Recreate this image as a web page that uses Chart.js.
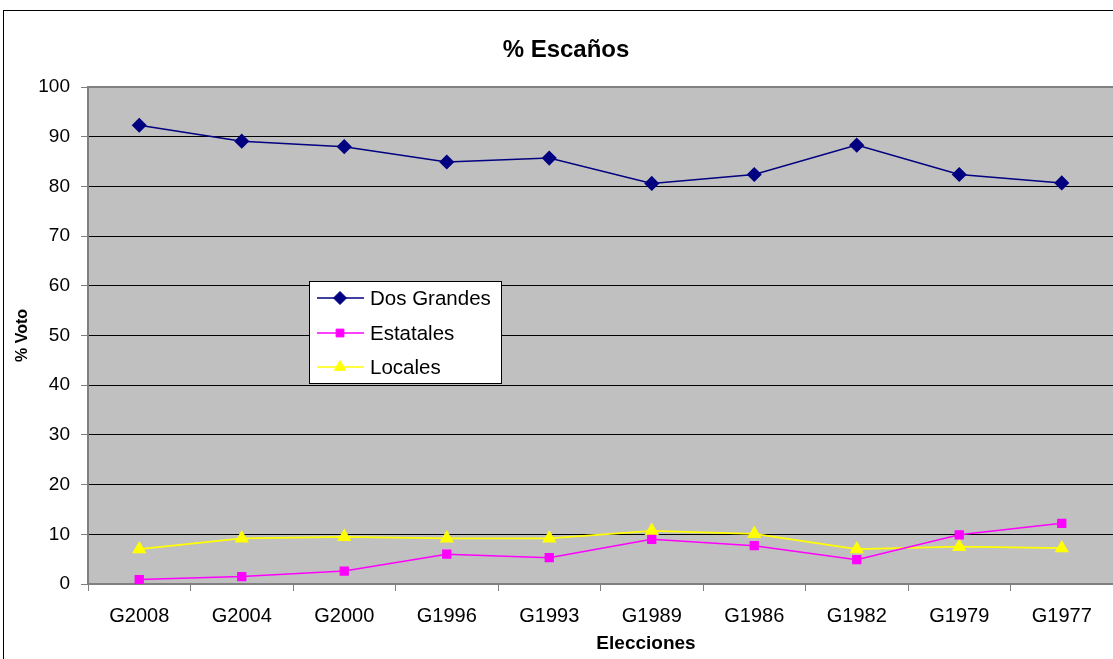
<!DOCTYPE html>
<html>
<head>
<meta charset="utf-8">
<script src="https://cdn.jsdelivr.net/npm/chart.js@4/dist/chart.umd.min.js"></script>
<style>
  html, body { margin: 0; padding: 0; background: #ffffff; }
  #wrap { width: 1113px; height: 659px; position: relative; }
</style>
</head>
<body>
<div id="wrap"><canvas id="c" width="1113" height="659"></canvas></div>
<script>
// Elecciones generales (most recent first)
const elecciones = ['G2008', 'G2004', 'G2000', 'G1996', 'G1993', 'G1989', 'G1986', 'G1982', 'G1979', 'G1977'];

// Share of seats (%) per group of parties
const dosGrandes = [92.3, 89.1, 88.0, 84.9, 85.7, 80.6, 82.4, 88.3, 82.4, 80.7];
const estatales  = [0.9, 1.5, 2.6, 6.0, 5.3, 9.0, 7.7, 4.9, 9.9, 12.2];
const locales    = [7.0, 9.2, 9.5, 9.2, 9.2, 10.7, 10.1, 7.0, 7.5, 7.2];

const seriesNames = ['Dos Grandes', 'Estatales', 'Locales'];
const yTicks = [0, 10, 20, 30, 40, 50, 60, 70, 80, 90, 100];

const chartTitle = '% Escaños';
const xTitle = 'Elecciones';
const yTitle = '% Voto';

const FONT = '"Liberation Sans", Arial, sans-serif';

// White page, outer frame and grey plot area
const frameAndBackground = {
  id: 'frameAndBackground',
  beforeDraw(chart) {
    const { ctx, chartArea: a } = chart;
    ctx.save();
    ctx.fillStyle = '#ffffff';
    ctx.fillRect(0, 0, chart.width, chart.height);
    ctx.strokeStyle = '#000000';
    ctx.lineWidth = 1;
    ctx.strokeRect(3.5, 10.5, chart.width + 20, chart.height + 20);
    ctx.fillStyle = '#C0C0C0';
    ctx.fillRect(a.left, a.top, a.right - a.left, a.bottom - a.top);
    ctx.restore();
  },
  beforeDatasetsDraw(chart) {
    // grey border along the top of the plot area
    const { ctx, chartArea: a } = chart;
    ctx.save();
    ctx.strokeStyle = '#808080';
    ctx.lineWidth = 2;
    ctx.beginPath();
    ctx.moveTo(a.left, a.top);
    ctx.lineTo(a.right, a.top);
    ctx.stroke();
    ctx.restore();
  }
};

// Chart title and category-axis title
const titles = {
  id: 'titles',
  afterDraw(chart) {
    const { ctx } = chart;
    ctx.save();
    ctx.fillStyle = '#000000';
    ctx.textAlign = 'center';
    ctx.textBaseline = 'middle';
    ctx.font = 'bold 24px ' + FONT;
    ctx.fillText(chartTitle, 566, 50);
    ctx.font = 'bold 19px ' + FONT;
    ctx.fillText(xTitle, 646, 644);
    ctx.restore();
  }
};

// Boxed legend placed inside the plot area
const boxedLegend = {
  id: 'boxedLegend',
  afterDraw(chart) {
    const { ctx } = chart;
    const x = 309.5, y = 281.5, w = 192, h = 102;
    ctx.save();
    ctx.fillStyle = '#ffffff';
    ctx.fillRect(x, y, w, h);
    ctx.strokeStyle = '#000000';
    ctx.lineWidth = 1;
    ctx.strokeRect(x, y, w, h);
    const rows = [298, 333, 367];
    chart.data.datasets.forEach((ds, i) => {
      const ry = rows[i];
      ctx.strokeStyle = ds.borderColor;
      ctx.lineWidth = 1.5;
      ctx.beginPath();
      ctx.moveTo(317, ry);
      ctx.lineTo(364, ry);
      ctx.stroke();
      ctx.fillStyle = ds.pointBackgroundColor;
      ctx.strokeStyle = ds.pointBorderColor;
      ctx.lineWidth = 1;
      Chart.helpers.drawPoint(ctx, {
        pointStyle: ds.pointStyle,
        radius: ds.pointRadius,
        borderWidth: 1,
        rotation: 0
      }, 340, ry);
      ctx.fillStyle = '#000000';
      ctx.font = '20.5px ' + FONT;
      ctx.textBaseline = 'middle';
      ctx.textAlign = 'left';
      ctx.fillText(ds.label, 370, ry + 1);
    });
    ctx.restore();
  }
};

new Chart(document.getElementById('c'), {
  type: 'line',
  data: {
    labels: elecciones,
    datasets: [
      {
        label: seriesNames[0],
        data: dosGrandes,
        borderColor: '#000080',
        backgroundColor: '#000080',
        pointBackgroundColor: '#000080',
        pointBorderColor: '#000080',
        pointStyle: 'rectRot',
        pointRadius: 6.5,
        borderWidth: 1.5,
        tension: 0
      },
      {
        label: seriesNames[1],
        data: estatales,
        borderColor: '#FF00FF',
        backgroundColor: '#FF00FF',
        pointBackgroundColor: '#FF00FF',
        pointBorderColor: '#FF00FF',
        pointStyle: 'rect',
        pointRadius: 5.5,
        borderWidth: 1.5,
        tension: 0
      },
      {
        label: seriesNames[2],
        data: locales,
        borderColor: '#FFFF00',
        backgroundColor: '#FFFF00',
        pointBackgroundColor: '#FFFF00',
        pointBorderColor: '#FFFF00',
        pointStyle: 'triangle',
        pointRadius: 6.5,
        borderWidth: 1.8,
        tension: 0
      }
    ]
  },
  options: {
    responsive: false,
    animation: false,
    events: [],
    layout: { autoPadding: false, padding: { left: 0, right: 0, top: 87, bottom: 0 } },
    plugins: {
      legend: { display: false },
      tooltip: { enabled: false },
      title: { display: false }
    },
    scales: {
      x: {
        offset: true,
        grid: {
          offset: true,
          drawOnChartArea: false,
          drawTicks: true,
          tickLength: 7,
          color: '#808080',
          lineWidth: 1
        },
        border: { display: true, color: '#808080', width: 2 },
        ticks: {
          color: '#000000',
          font: { family: FONT, size: 20 },
          padding: 13,
          maxRotation: 0,
          autoSkip: false
        },
        afterFit(scale) {
          scale.height = 75;
          scale.paddingLeft = 0;
          scale.paddingRight = 0;
        }
      },
      y: {
        min: 0,
        max: 100,
        afterBuildTicks(scale) {
          scale.ticks = yTicks.map(v => ({ value: v }));
        },
        grid: {
          color: '#000000',
          lineWidth: 1,
          drawTicks: true,
          tickLength: 7,
          tickColor: '#808080'
        },
        border: { display: true, color: '#808080', width: 2 },
        ticks: {
          color: '#000000',
          font: { family: FONT, size: 19 },
          padding: 11
        },
        title: {
          display: true,
          text: yTitle,
          color: '#000000',
          font: { family: FONT, size: 16, weight: 'bold' },
          padding: { top: 13, bottom: 0 }
        },
        afterFit(scale) { scale.width = 88; }
      }
    }
  },
  plugins: [frameAndBackground, titles, boxedLegend]
});
</script>
</body>
</html>
